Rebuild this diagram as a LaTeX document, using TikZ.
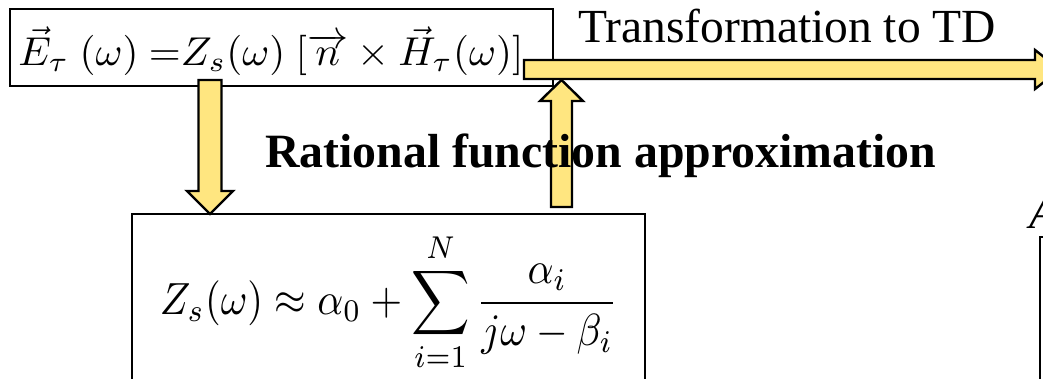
\documentclass[tikz,border=0pt]{standalone}
\usepackage{fontspec}
\setmainfont{Liberation Serif}
\usepackage{amsmath}
\usetikzlibrary{calc}
\definecolor{arrowfill}{HTML}{FFE680}
\tikzset{
  eqbox/.style={draw=black, line width=2.4pt, fill=white},
  blockarrow/.style={draw=black, line width=2.4pt, fill=arrowfill, line join=miter},
  lbl/.style={inner sep=0pt, anchor=base west},
}
\begin{document}
\begin{tikzpicture}[x=1pt,y=-1pt]
\useasboundingbox (0,0) rectangle (1043,378);
\clip (0,0) rectangle (1043,378);
% top equation box
\draw[eqbox] (10,9) rectangle (553,86);
\node[inner sep=0pt] (topeq) at (271,51) {\resizebox*{505pt}{49pt}{$\vec{E}_{\tau}\ (\omega)\ {=}Z_{s}(\omega)\ [\overrightarrow{n}\times\vec{H}_{\tau}(\omega)]$}};
% bottom equation box
\draw[eqbox] (132,214) rectangle (645,420);
\node[inner sep=0pt] (boteq) at (389,302) {\resizebox*{458pt}{140pt}{$\displaystyle Z_{s}(\omega)\approx\alpha_{0}+\sum_{i=1}^{N}\frac{\alpha_{i}}{j\omega-\beta_{i}}$}};
% right partial box and letter
\draw[eqbox] (1040,237) rectangle (1300,420);
\node[lbl] (rlab) at (1029,228) {\fontsize{47}{50}\selectfont\itshape A};
% connector coordinates
\coordinate (hs) at (524,69.5);
\coordinate (he) at (1060,69.5);
\coordinate (ds) at (210,80);
\coordinate (de) at (210,214);
\coordinate (us) at (561.5,207);
\coordinate (ue) at (561.5,80);
% horizontal arrow
\draw[blockarrow] ($(hs)+(0,-9.5)$) -- ($(he)+(-25,-9.5)$) -- ($(he)+(-25,-19.5)$) -- (he)
  -- ($(he)+(-25,19.5)$) -- ($(he)+(-25,9.5)$) -- ($(hs)+(0,9.5)$) -- cycle;
% down arrow
\draw[blockarrow] ($(ds)+(-11.5,0)$) -- ($(ds)+(11.5,0)$) -- ($(de)+(11.5,-23)$) -- ($(de)+(23,-23)$)
  -- (de) -- ($(de)+(-23,-23)$) -- ($(de)+(-11.5,-23)$) -- cycle;
% up arrow
\draw[blockarrow] ($(us)+(-10.5,0)$) -- ($(us)+(10.5,0)$) -- ($(ue)+(10.5,21)$) -- ($(ue)+(21.5,21)$)
  -- (ue) -- ($(ue)+(-21.5,21)$) -- ($(ue)+(-10.5,21)$) -- cycle;
% labels
\node[lbl] (tdlab) at (578,42) {\fontsize{47.5}{50}\selectfont Transformation to TD};
\node[lbl] (rfa) at (265,167) {\fontsize{47.8}{50}\selectfont\bfseries Rational function approximation};
\end{tikzpicture}
\end{document}
